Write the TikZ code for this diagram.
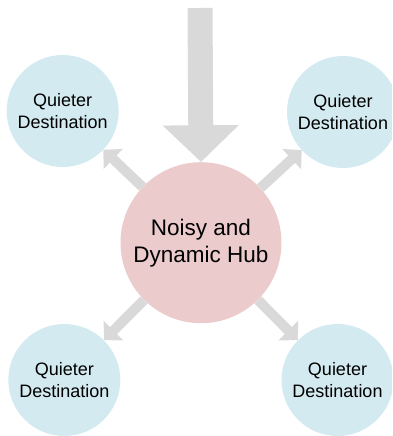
\documentclass[tikz,border=0pt]{standalone}
\usepackage{fontspec}
\setmainfont{Liberation Sans}
\usetikzlibrary{arrows.meta}
\definecolor{destblue}{HTML}{D3EAF0}
\definecolor{hubpink}{HTML}{EBCBCB}
\definecolor{arrowgray}{HTML}{D9D9D9}
\begin{document}
\begin{tikzpicture}[x=1pt,y=-1pt,
  dest/.style={circle, fill=destblue, minimum size=112pt, inner sep=0pt, align=center, font=\fontsize{18}{22}\selectfont},
  hub/.style={circle, fill=hubpink, minimum size=161pt, inner sep=0pt, align=center, font=\fontsize{22.5}{27}\selectfont},
  flow/.style={draw=arrowgray, line width=10pt, -{Triangle[length=13.5pt,width=27pt]}},
  bigflow/.style={draw=arrowgray, line width=25pt, -{Triangle[length=36.7pt,width=74pt]}}]
\useasboundingbox (0,0) rectangle (392,436);
\clip (0,0) rectangle (392,436);
\node[hub] (hub) at (201,242.7) {Noisy and\\Dynamic Hub};
\node[dest] (tl) at (62.7,111) {Quieter\\Destination};
\node[dest] (tr) at (343,112) {Quieter\\Destination};
\node[dest] (bl) at (64.3,380) {Quieter\\Destination};
\node[dest] (br) at (337.5,380) {Quieter\\Destination};
\coordinate (src) at (200,8);
\draw[bigflow] (src) -- (hub.north);
\draw[flow] (hub) -- (tl);
\draw[flow] (hub) -- (tr);
\draw[flow] (hub) -- (bl);
\draw[flow] (hub) -- (br);
\end{tikzpicture}
\end{document}
